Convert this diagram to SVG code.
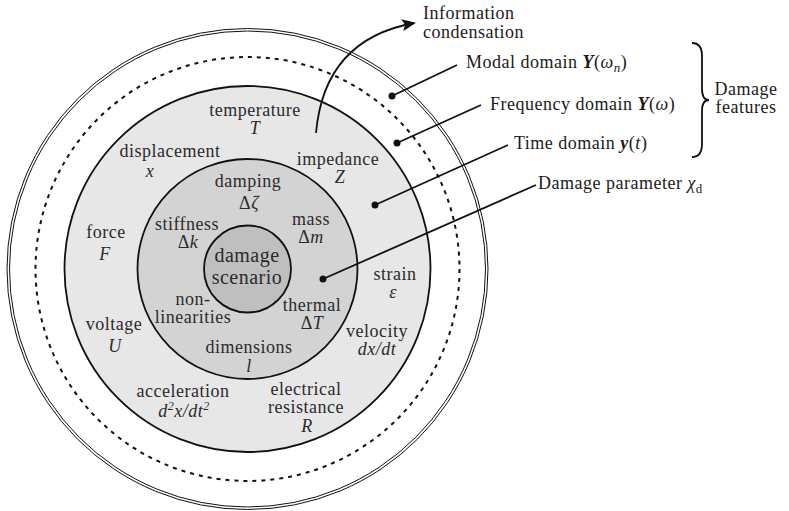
<svg xmlns="http://www.w3.org/2000/svg" width="789" height="511" viewBox="0 0 789 511">
  <style>
    text { font-family: "Liberation Serif", "Times New Roman", serif; font-size: 18px; letter-spacing: 0.5px; fill: #1a1a1a; }
    .in { text-anchor: middle; fill: #2b2b2b; }
    .big { font-size: 20px; }
    .it { font-style: italic; }
    .bi { font-style: italic; font-weight: bold; }
    .ring { stroke: #111; stroke-width: 1.8; }
    .thin { fill: none; stroke: #111; stroke-width: 1; }
    .lead { stroke: #111; stroke-width: 1.8; fill: none; }
    .dot { fill: #111; }
  </style>
  <defs>
    <marker id="head" viewBox="0 0 14 12" refX="12" refY="6" markerWidth="14" markerHeight="12" markerUnits="userSpaceOnUse" orient="auto">
      <path d="M0,0 L14,6 L0,12 L3,6 Z" fill="#111"/>
    </marker>
  </defs>

  <!-- concentric domains, centre (247.5, 269) -->
  <g id="modal-domain">
    <circle cx="247.5" cy="269" r="240.5" class="thin"/>
    <circle cx="247.5" cy="269" r="238" class="thin"/>
    <circle cx="247.5" cy="269" r="212" fill="none" stroke="#111" stroke-width="2" stroke-dasharray="4 5"/>
  </g>
  <g id="frequency-domain">
    <circle cx="247.5" cy="269" r="183" fill="#e7e7e8" class="ring"/>
  </g>
  <g id="time-domain">
    <circle cx="247.5" cy="269" r="110" fill="#d3d3d3" class="ring"/>
  </g>
  <g id="damage-scenario">
    <circle cx="247.5" cy="269" r="43.5" fill="#bfbfbf" class="ring"/>
    <text class="in big"><tspan x="247" y="262">damage</tspan><tspan x="247" y="284">scenario</tspan></text>
  </g>

  <!-- measured quantities: name over symbol -->
  <g id="signals">
    <text class="in"><tspan x="255" y="116">temperature</tspan><tspan class="it" x="255" y="134">T</tspan></text>
    <text class="in"><tspan x="170" y="157">displacement</tspan><tspan class="it" x="150" y="177">x</tspan></text>
    <text class="in"><tspan x="338" y="165">impedance</tspan><tspan class="it" x="340" y="183">Z</tspan></text>
    <text class="in"><tspan x="106" y="238">force</tspan><tspan class="it" x="105" y="260">F</tspan></text>
    <text class="in"><tspan x="395" y="280">strain</tspan><tspan class="it" x="393" y="298">ε</tspan></text>
    <text class="in"><tspan x="114" y="330">voltage</tspan><tspan class="it" x="115" y="352">U</tspan></text>
    <text class="in"><tspan x="377" y="337">velocity</tspan><tspan class="it" x="377" y="355">dx/dt</tspan></text>
    <text class="in"><tspan x="183" y="397">acceleration</tspan><tspan class="it" x="184" y="417">d<tspan dy="-7" font-size="12">2</tspan><tspan dy="7">x/dt</tspan><tspan dy="-7" font-size="12">2</tspan></tspan></text>
    <text class="in"><tspan x="306" y="395">electrical</tspan><tspan x="306" y="413">resistance</tspan><tspan class="it" x="307" y="432">R</tspan></text>
  </g>

  <!-- structural parameters -->
  <g id="parameters">
    <text class="in"><tspan x="248" y="187">damping</tspan><tspan x="249" y="209">Δ<tspan class="it">ζ</tspan></tspan></text>
    <text class="in"><tspan x="187" y="230">stiffness</tspan><tspan x="188" y="248">Δ<tspan class="it">k</tspan></tspan></text>
    <text class="in"><tspan x="311" y="225">mass</tspan><tspan x="311" y="243">Δ<tspan class="it">m</tspan></tspan></text>
    <text class="in"><tspan x="193" y="305">non-</tspan><tspan x="193" y="323">linearities</tspan></text>
    <text class="in"><tspan x="312" y="311">thermal</tspan><tspan x="312" y="329">Δ<tspan class="it">T</tspan></tspan></text>
    <text class="in"><tspan x="249" y="353">dimensions</tspan><tspan class="it" x="249" y="372">l</tspan></text>
  </g>

  <!-- leaders and the condensation arrow -->
  <g id="connectors">
    <path class="lead" d="M316,133 C322,65 360,33 414,23" marker-end="url(#head)"/>
    <line class="lead" x1="392" y1="96" x2="457" y2="65"/>
    <circle class="dot" cx="392" cy="96" r="3.5"/>
    <line class="lead" x1="397" y1="143" x2="481" y2="105"/>
    <circle class="dot" cx="397" cy="143" r="3.5"/>
    <line class="lead" x1="375" y1="205" x2="508" y2="145"/>
    <circle class="dot" cx="375" cy="205" r="3.5"/>
    <line class="lead" x1="323" y1="279" x2="536" y2="185"/>
    <circle class="dot" cx="323" cy="279" r="3.5"/>
    <path class="lead" d="M692,43 Q702,43 702,56 L702,89 Q702,100 709,100 Q702,100 702,111 L702,144 Q702,157 692,157"/>
  </g>

  <g id="labels">
    <text><tspan x="423" y="19">Information</tspan><tspan x="423" y="38">condensation</tspan></text>
    <text x="466" y="68">Modal domain <tspan class="bi">Y</tspan>(<tspan class="it">ω</tspan><tspan class="it" font-size="13" dy="4">n</tspan><tspan dy="-4">)</tspan></text>
    <text x="490" y="110">Frequency domain <tspan class="bi">Y</tspan>(<tspan class="it">ω</tspan>)</text>
    <text x="514" y="149">Time domain <tspan class="bi">y</tspan>(<tspan class="it">t</tspan>)</text>
    <text x="538" y="189">Damage parameter <tspan class="it">χ</tspan><tspan font-size="13" dy="4">d</tspan></text>
    <text text-anchor="middle"><tspan x="746" y="95">Damage</tspan><tspan x="746" y="113">features</tspan></text>
  </g>
</svg>
